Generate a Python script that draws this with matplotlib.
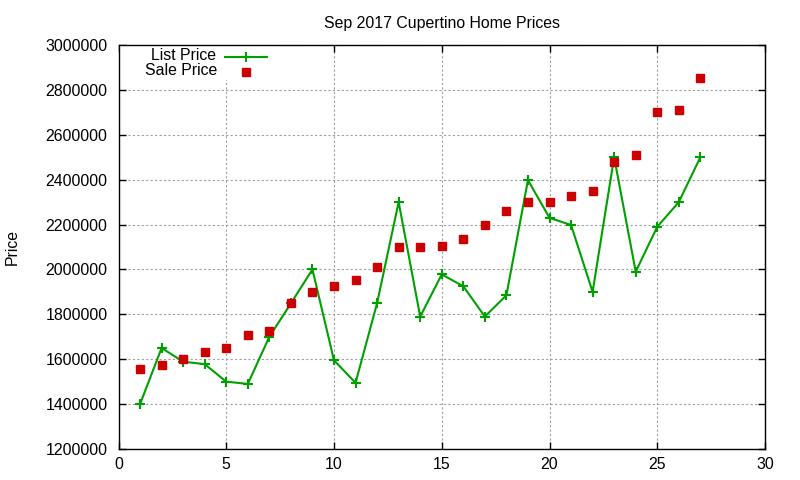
import matplotlib
matplotlib.use("Agg")
import matplotlib.pyplot as plt
from matplotlib.lines import Line2D
from matplotlib.patches import Rectangle
from matplotlib.ticker import FuncFormatter, MultipleLocator

# values
listing = list(range(1, 28))
list_price = [
    1400000, 1650000, 1589000, 1578000, 1500000, 1490000, 1700000, 1849000, 2000000,
    1595000, 1495000, 1850000, 2300000, 1790000, 1978000, 1925000, 1790000, 1885000,
    2398000, 2230000, 2198000, 1900000, 2500000, 1990000, 2190000, 2300000, 2500000,
]
sale_price = [
    1555000, 1575000, 1600000, 1632000, 1650000, 1708000, 1725000, 1850000, 1900000,
    1928000, 1955000, 2010000, 2100000, 2100000, 2105000, 2137000, 2200000, 2262000,
    2300000, 2300000, 2328000, 2350000, 2480000, 2510000, 2700000, 2710000, 2855000,
]

GREEN = "#00a000"
RED = "#cc0000"

plt.rcParams["font.family"] = ["Liberation Sans", "DejaVu Sans"]
plt.rcParams["font.size"] = 11.4

fig = plt.figure(figsize=(8, 4.8), dpi=100)
ax = fig.add_axes([118.5 / 800, 1 - 449 / 480, 646.5 / 800, 404 / 480])

ax.plot(listing, list_price, color=GREEN, lw=1.5, marker="+", ms=7, mew=1.5, zorder=3)
ax.plot(listing, sale_price, ls="none", marker="s", ms=5.8, color=RED, mec=RED, zorder=3)

ax.set_xlim(0, 30)
ax.set_ylim(1200000, 3000000)
ax.xaxis.set_major_locator(MultipleLocator(5))
ax.yaxis.set_major_locator(MultipleLocator(200000))
ax.yaxis.set_major_formatter(FuncFormatter(lambda v, _: f"{v:.0f}"))
ax.tick_params(direction="in", length=5, width=1, top=True, right=True, colors="black")
ax.tick_params(axis="y", pad=8)
ax.tick_params(axis="x", pad=6)
for side in ax.spines.values():
    side.set_linewidth(1.0)
ax.grid(True, color="#a0a0a0", lw=0.8, ls=(0, (2, 2)))
ax.set_axisbelow(True)

ax.set_title("Sep 2017 Cupertino Home Prices", fontsize=11.4, pad=12.5)
fig.text(12 / 800, 1 - 247 / 480, "Price", rotation=90, ha="center", va="center")

# key, gnuplot style: labels right-aligned, sample on the right, blank box under it
ax.add_patch(Rectangle((0.0, 0.913), 0.242, 0.087, transform=ax.transAxes,
                       facecolor="white", edgecolor="none", zorder=2))
ax.text(0.151, 0.973, "List Price", transform=ax.transAxes, ha="right", va="center", zorder=4)
ax.text(0.152, 0.936, "Sale Price", transform=ax.transAxes, ha="right", va="center", zorder=4)
ax.add_line(Line2D([0.165, 0.2297], [0.970, 0.970], transform=ax.transAxes,
                   color=GREEN, lw=1.5, zorder=4))
ax.add_line(Line2D([0.197], [0.970], transform=ax.transAxes, color=GREEN,
                   marker="+", ms=7, mew=1.5, zorder=4))
ax.add_line(Line2D([0.197], [0.933], transform=ax.transAxes, ls="none", marker="s",
                   ms=5.8, color=RED, mec=RED, zorder=4))

fig.savefig("out.png", dpi=100)
